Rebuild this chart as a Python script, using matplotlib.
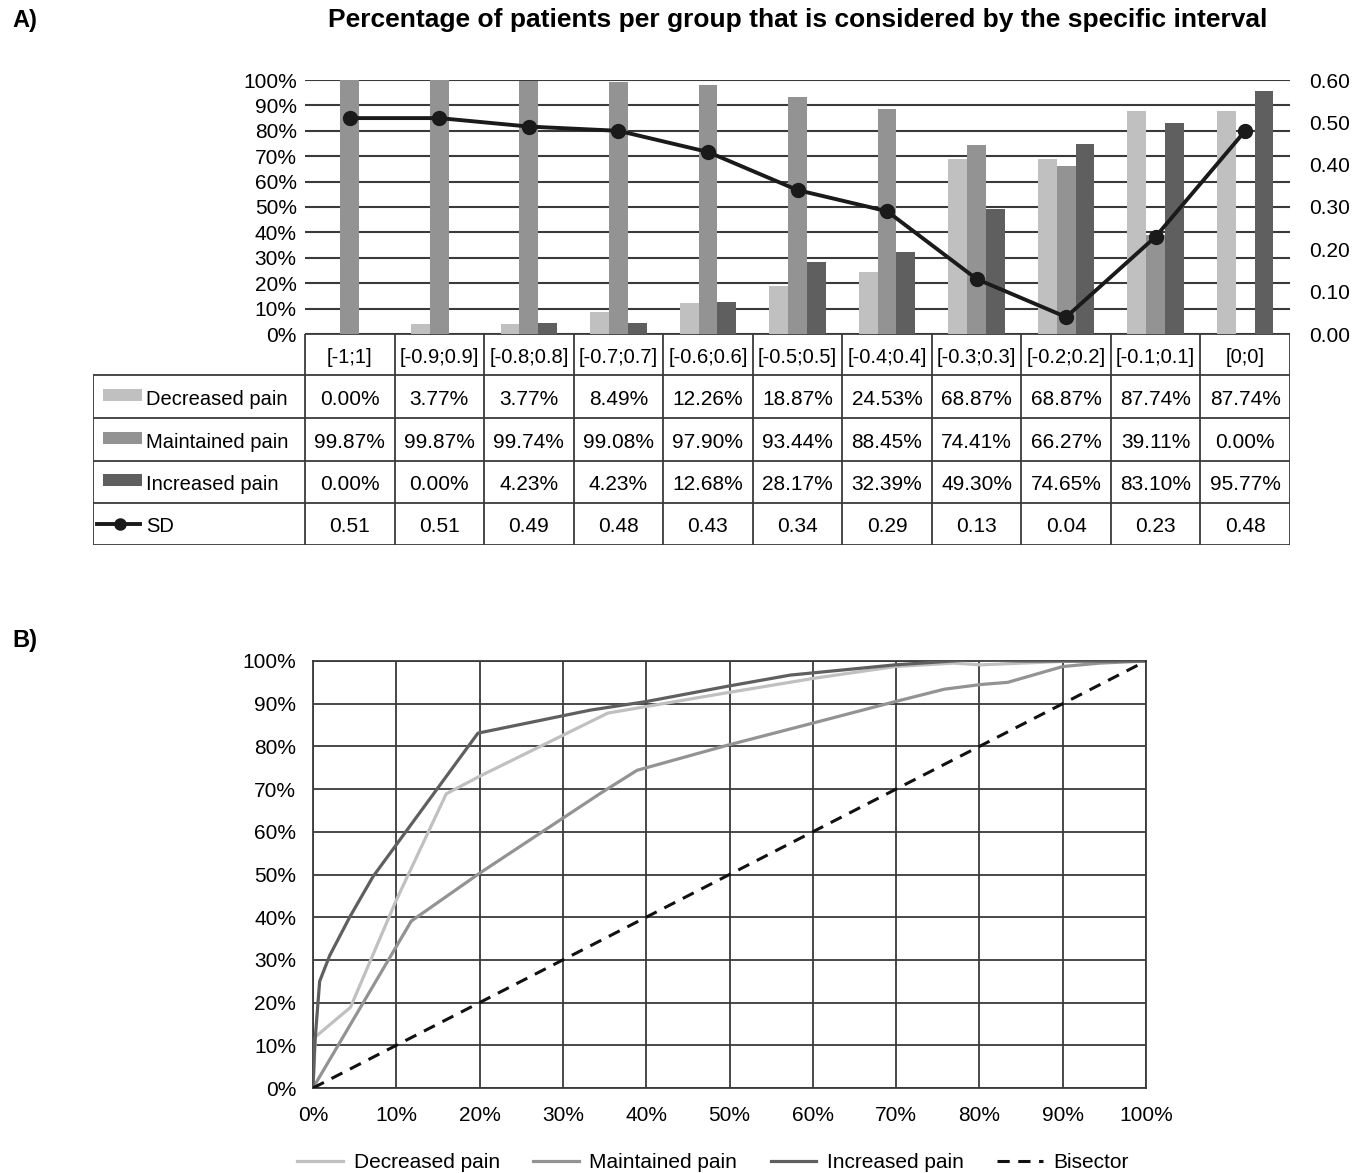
import numpy as np
import matplotlib
matplotlib.use("Agg")
import matplotlib.pyplot as plt
from matplotlib.patches import Rectangle

plt.rcParams['font.family'] = ['Liberation Sans', 'DejaVu Sans']

# ---------- data ----------
intervals = ["[-1;1]", "[-0.9;0.9]", "[-0.8;0.8]", "[-0.7;0.7]", "[-0.6;0.6]", "[-0.5;0.5]",
             "[-0.4;0.4]", "[-0.3;0.3]", "[-0.2;0.2]", "[-0.1;0.1]", "[0;0]"]
decreased = [0.00, 3.77, 3.77, 8.49, 12.26, 18.87, 24.53, 68.87, 68.87, 87.74, 87.74]
maintained = [99.87, 99.87, 99.74, 99.08, 97.90, 93.44, 88.45, 74.41, 66.27, 39.11, 0.00]
increased = [0.00, 0.00, 4.23, 4.23, 12.68, 28.17, 32.39, 49.30, 74.65, 83.10, 95.77]
sd = [0.51, 0.51, 0.49, 0.48, 0.43, 0.34, 0.29, 0.13, 0.04, 0.23, 0.48]

# panel B curves (x = % on horizontal axis, y = % on vertical axis)
dec_x = [0, 0.3, 4.5, 10, 16, 20, 35.4, 49.8, 60.3, 69.9, 76.9, 80.2, 90, 100]
dec_y = [0, 12, 18.9, 44, 68.9, 73, 87.8, 92.6, 96, 98.7, 99.5, 99.1, 99.9, 100]
mai_x = [0, 11.8, 20, 34.5, 38.9, 49.8, 59.9, 69.9, 75.8, 80.2, 83.4, 90, 94.4, 100]
mai_y = [0, 39.1, 50.3, 69, 74.4, 80.3, 85.4, 90.5, 93.4, 94.5, 95, 98.7, 99.5, 100]
inc_x = [0, 0.2, 0.8, 2, 4.4, 7.2, 19.8, 33.3, 40, 49.8, 57.3, 69.9, 79.1, 85, 100]
inc_y = [0, 10, 25, 31, 40, 49.5, 83.1, 88.5, 90.5, 94.1, 96.7, 99.1, 100.3, 100, 100]
bis = [0, 100]

C_DEC, C_MAI, C_INC = "#c0c0c0", "#939393", "#5f5f5f"
GRID = "#3a3a3a"

W, H = 1368, 1173
fig = plt.figure(figsize=(W / 100, H / 100), dpi=100)

def box(l, t, r, b):
    return [l / W, 1 - b / H, (r - l) / W, (b - t) / H]

fig.text(12 / W, 1 - 21 / H, "A)", fontsize=17, fontweight="bold", va="center")
fig.text(12 / W, 1 - 641 / H, "B)", fontsize=17, fontweight="bold", va="center")
fig.text(798 / W, 1 - 20 / H,
         "Percentage of patients per group that is considered by the specific interval",
         fontsize=19, fontweight="bold", ha="center", va="center")

# ---------- panel A ----------
axA = fig.add_axes(box(305, 80, 1290, 334))
x = np.arange(len(intervals))
bw = 0.21
axA.bar(x - bw, decreased, bw, color=C_DEC, zorder=2)
axA.bar(x, maintained, bw, color=C_MAI, zorder=2)
axA.bar(x + bw, increased, bw, color=C_INC, zorder=2)
axA.set_xlim(-0.5, len(intervals) - 0.5)
axA.set_ylim(0, 100)
axA.set_yticks(range(0, 101, 10))
axA.set_yticklabels([f"{v}%" for v in range(0, 101, 10)], fontsize=15)
axA.set_xticks([])
axA.yaxis.grid(True, color=GRID, lw=1.5, zorder=0)
axA.set_axisbelow(True)
axA.tick_params(axis="y", length=0, pad=6)
for s in axA.spines.values():
    s.set_visible(False)

axR = axA.twinx()
axR.plot(x, sd, color="#1a1a1a", lw=2.8, marker="o", ms=10, zorder=5)
axR.set_ylim(0, 0.6)
axR.set_yticks(np.arange(0, 0.61, 0.1))
axR.set_yticklabels([f"{v:.2f}" for v in np.arange(0, 0.61, 0.1)], fontsize=15)
axR.tick_params(axis="y", length=0, pad=14)
for s in axR.spines.values():
    s.set_visible(False)

# table under panel A
ppu = 985 / len(intervals)
xl = -0.5 - (305 - 93) / ppu
axT = fig.add_axes(box(93, 334, 1290, 545))
axT.set_xlim(xl, len(intervals) - 0.5)
axT.set_ylim(211, 0)
axT.axis("off")
rows = [0, 41, 84, 127, 169, 211]
xr = len(intervals) - 0.5
lk = dict(color=GRID, lw=1.3, solid_capstyle="butt")
axT.plot([-0.5, xr], [0, 0], **lk)
for yb in rows[1:]:
    axT.plot([xl, xr], [yb, yb], **lk)
for k in range(len(intervals) + 1):
    axT.plot([k - 0.5, k - 0.5], [0, 211], **lk)
axT.plot([xl, xl], [41, 211], **lk)

fs_lab = 14.5
fs_val = 15
for i, lab in enumerate(intervals):
    axT.text(i, 23, lab, ha="center", va="center", fontsize=fs_lab)
series = [("Decreased pain", decreased, C_DEC), ("Maintained pain", maintained, C_MAI),
          ("Increased pain", increased, C_INC)]
for r, (name, vals, col) in enumerate(series):
    yc = (rows[r + 1] + rows[r + 2]) / 2
    axT.add_patch(Rectangle((xl + 10 / ppu, yc - 8), 39 / ppu, 12, color=col, lw=0))
    axT.text(xl + 53 / ppu, yc + 3, name, ha="left", va="center", fontsize=fs_lab)
    for i, v in enumerate(vals):
        axT.text(i, yc + 3, f"{v:.2f}%", ha="center", va="center", fontsize=fs_val)
yc = (rows[4] + rows[5]) / 2
axT.plot([xl + 4 / ppu, xl + 47 / ppu], [yc, yc], color="#1a1a1a", lw=2.8)
axT.plot([xl + 27 / ppu], [yc], "o", color="#1a1a1a", ms=8)
axT.text(xl + 53 / ppu, yc + 3, "SD", ha="left", va="center", fontsize=fs_lab)
for i, v in enumerate(sd):
    axT.text(i, yc + 3, f"{v:.2f}", ha="center", va="center", fontsize=fs_val)

# ---------- panel B ----------
axB = fig.add_axes(box(313, 661, 1146, 1088))
axB.plot(dec_x, dec_y, color=C_DEC, lw=2.3, label="Decreased pain", zorder=3)
axB.plot(mai_x, mai_y, color=C_MAI, lw=2.3, label="Maintained pain", zorder=3)
axB.plot(inc_x, inc_y, color=C_INC, lw=2.3, label="Increased pain", zorder=3)
axB.plot(bis, bis, color="#111111", lw=2.2, ls=(0, (4, 2.8)), label="Bisector", zorder=4)
axB.set_xlim(0, 100)
axB.set_ylim(0, 100)
ticks = list(range(0, 101, 10))
axB.set_xticks(ticks)
axB.set_yticks(ticks)
axB.set_xticklabels([f"{v}%" for v in ticks], fontsize=15)
axB.set_yticklabels([f"{v}%" for v in ticks], fontsize=15)
axB.grid(True, color=GRID, lw=1.3, zorder=0)
axB.tick_params(length=0)
axB.tick_params(axis="y", pad=12)
axB.tick_params(axis="x", pad=13)
for s in axB.spines.values():
    s.set_color(GRID)
    s.set_linewidth(1.3)

fig.legend(*axB.get_legend_handles_labels(), loc="center", ncol=4, frameon=False,
           fontsize=15, bbox_to_anchor=(713 / W, 1 - 1163 / H),
           handlelength=2.2, handletextpad=0.5, columnspacing=1.6)

fig.savefig("out.png", dpi=100)
